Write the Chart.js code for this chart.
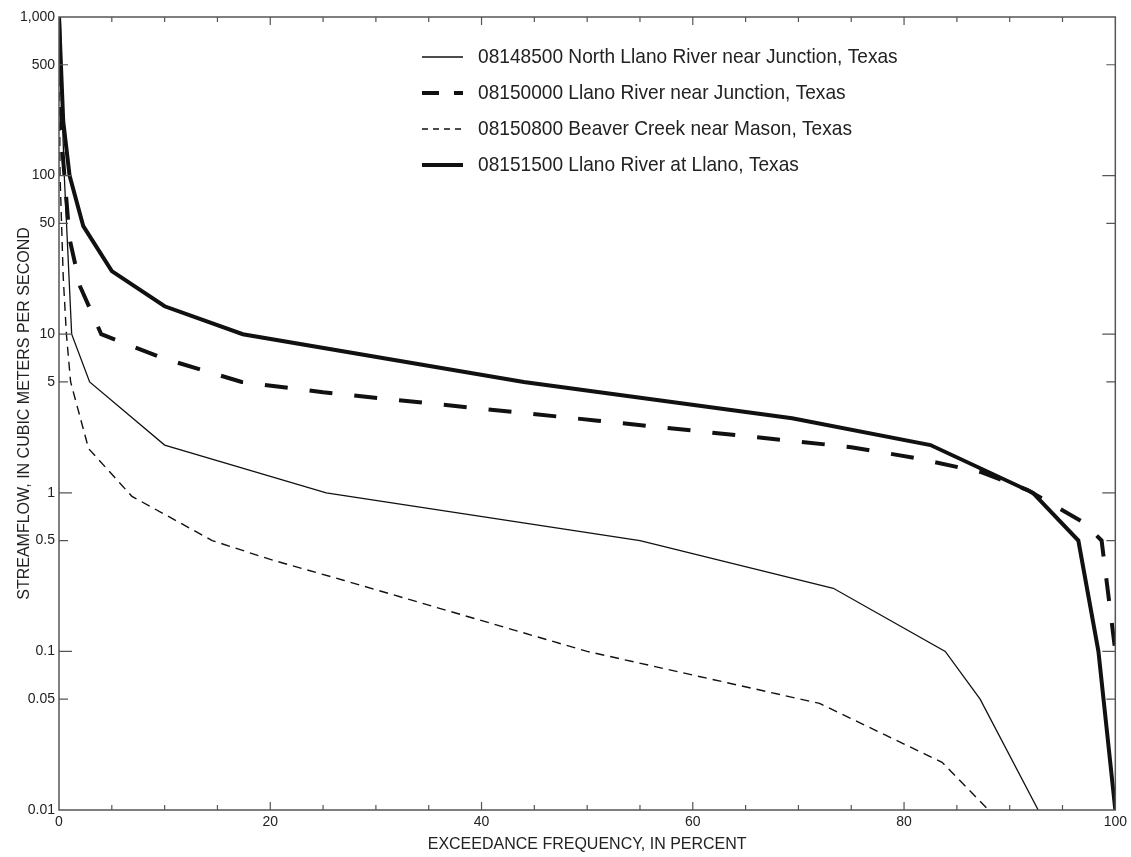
<!DOCTYPE html>
<html>
<head>
<meta charset="utf-8">
<script src="https://cdn.jsdelivr.net/npm/chart.js@4.4.1/dist/chart.umd.min.js"></script>
<style>
  html, body { margin: 0; padding: 0; background: #fff; }
  #wrap { width: 1131px; height: 857px; }
</style>
</head>
<body>
<div id="wrap"><canvas id="chartFlow"></canvas></div>
<script>
// Courbes des débits classés
const northLlanoX = [0, 0.5, 1.2, 2.9, 10, 25.3, 55, 73.3, 83.9, 87.2, 92.7];
const northLlanoY = [1000, 100, 10, 5, 2, 1, 0.5, 0.25, 0.1, 0.05, 0.01];

const llanoJunctionX = [0, 0.3, 1, 2, 4, 10, 17.3, 25, 51, 75, 81, 87.3, 91.7, 97, 98.7, 100];
const llanoJunctionY = [1000, 150, 40, 20, 10, 7, 5, 4.3, 2.85, 1.94, 1.66, 1.35, 1.04, 0.65, 0.5, 0.1];

const beaverX = [0, 0.1, 0.4, 0.7, 1.1, 2.8, 6.9, 14.5, 20, 27, 50, 72, 83.6, 88];
const beaverY = [1000, 100, 23, 10, 5, 1.9, 0.95, 0.5, 0.38, 0.28, 0.1, 0.047, 0.02, 0.01];

const llanoX = [0, 0.4, 1, 2.3, 5, 10, 17.4, 44, 69.4, 82.5, 92.2, 96.5, 98.4, 100];
const llanoY = [1000, 220, 100, 48, 25, 15, 10, 5, 2.95, 2.0, 1.0, 0.5, 0.1, 0.01];

const seriesNames = [
    '08148500 North Llano River near Junction, Texas',
    '08150000 Llano River near Junction, Texas',
    '08150800 Beaver Creek near Mason, Texas',
    '08151500 Llano River at Llano, Texas'
];

const yTickValues = [0.01, 0.05, 0.1, 0.5, 1, 5, 10, 50, 100, 500, 1000];
const yTickLabels = ['0.01', '0.05', '0.1', '0.5', '1', '5', '10', '50', '100', '500', '1,000'];
const xTickLabels = ['0', '20', '40', '60', '80', '100'];

function points(xs, ys) {
    return xs.map((x, i) => ({ x: x, y: ys[i] }));
}

const TEXT = '#222';
const FONT = '"Liberation Sans", Arial, sans-serif';

// Cadre, graduations intérieures et légende
const framePlugin = {
    id: 'framePlugin',
    afterDraw(chart) {
        const { ctx, chartArea: a, scales } = chart;
        const xs = scales.x, ys = scales.y;
        ctx.save();
        ctx.strokeStyle = '#555';
        ctx.lineWidth = 1.5;
        ctx.strokeRect(a.left, a.top, a.right - a.left, a.bottom - a.top);

        ctx.lineWidth = 1.2;
        ctx.beginPath();
        xs.ticks.forEach(t => {
            if (t.value <= 0 || t.value >= 100) return;
            const px = xs.getPixelForValue(t.value);
            const len = t.value % 20 === 0 ? 8 : 5;
            ctx.moveTo(px, a.bottom); ctx.lineTo(px, a.bottom - len);
            ctx.moveTo(px, a.top); ctx.lineTo(px, a.top + len);
        });
        yTickValues.forEach(v => {
            if (v === 0.01 || v === 1000) return;
            const py = ys.getPixelForValue(v);
            const major = Math.abs(Math.log10(v) - Math.round(Math.log10(v))) < 1e-9;
            const len = major ? 13 : 9;
            ctx.moveTo(a.left, py); ctx.lineTo(a.left + len, py);
            ctx.moveTo(a.right, py); ctx.lineTo(a.right - len, py);
        });
        ctx.stroke();

        // légende (police un peu étroite, comme sur l'original)
        ctx.font = '21px ' + FONT;
        ctx.textBaseline = 'middle';
        ctx.textAlign = 'left';
        chart.data.datasets.forEach((ds, i) => {
            const y = 57 + i * 36;
            ctx.strokeStyle = ds.borderColor;
            ctx.lineWidth = ds.borderWidth;
            ctx.setLineDash(ds.legendDash || []);
            ctx.beginPath();
            ctx.moveTo(422, y);
            ctx.lineTo(463, y);
            ctx.stroke();
            ctx.setLineDash([]);
            ctx.fillStyle = TEXT;
            ctx.save();
            ctx.translate(478, y);
            ctx.scale(0.91, 1);
            ctx.fillText(ds.label, 0, 0);
            ctx.restore();
        });
        ctx.restore();
    }
};

new Chart(document.getElementById('chartFlow'), {
    type: 'line',
    data: {
        datasets: [
            { label: seriesNames[0], data: points(northLlanoX, northLlanoY),
              borderColor: '#111', borderWidth: 1.3, legendDash: [] },
            { label: seriesNames[1], data: points(llanoJunctionX, llanoJunctionY),
              borderColor: '#111', borderWidth: 4, borderDash: [23, 22], legendDash: [17, 15] },
            { label: seriesNames[2], data: points(beaverX, beaverY),
              borderColor: '#111', borderWidth: 1.4, borderDash: [9, 6], legendDash: [6, 5] },
            { label: seriesNames[3], data: points(llanoX, llanoY),
              borderColor: '#111', borderWidth: 4, legendDash: [] }
        ]
    },
    options: {
        responsive: true,
        maintainAspectRatio: false,
        animation: false,
        layout: { padding: { top: 17, right: 14, left: 0, bottom: 0 } },
        elements: { point: { radius: 0 }, line: { tension: 0, fill: false } },
        plugins: { legend: { display: false }, tooltip: { enabled: false } },
        scales: {
            x: {
                type: 'linear', min: 0, max: 100,
                grid: { display: false, drawTicks: false },
                border: { display: false },
                ticks: {
                    stepSize: 5, autoSkip: false, maxRotation: 0, padding: 4,
                    color: TEXT, font: { family: FONT, size: 14 },
                    callback: v => (v % 20 === 0 ? xTickLabels[v / 20] : '')
                },
                title: {
                    display: true, text: 'EXCEEDANCE FREQUENCY, IN PERCENT',
                    color: TEXT, font: { family: FONT, size: 16 }, padding: { top: 0, bottom: 3 }
                },
                afterFit: s => { s.height = 47; }
            },
            y: {
                type: 'logarithmic', min: 0.01, max: 1000,
                grid: { display: false, drawTicks: false },
                border: { display: false },
                afterBuildTicks: s => { s.ticks = yTickValues.map(v => ({ value: v })); },
                ticks: {
                    autoSkip: false, padding: 4,
                    color: TEXT, font: { family: FONT, size: 14 },
                    callback: v => {
                        const i = yTickValues.indexOf(v);
                        return i >= 0 ? yTickLabels[i] : '';
                    }
                },
                title: {
                    display: true, text: 'STREAMFLOW, IN CUBIC METERS PER SECOND',
                    color: TEXT, font: { family: FONT, size: 16 }, padding: { top: 15, bottom: 0 }
                },
                afterFit: s => { s.width = 59; }
            }
        }
    },
    plugins: [framePlugin]
});
</script>
</body>
</html>
